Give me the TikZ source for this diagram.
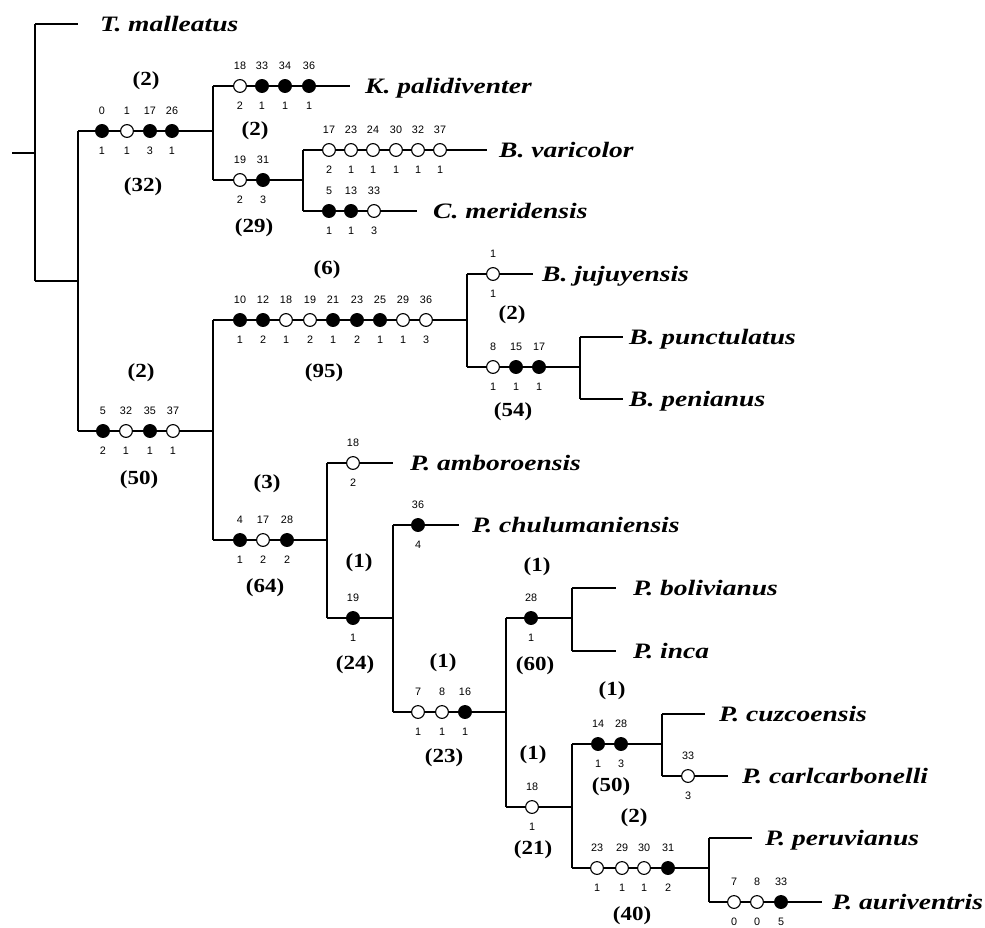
\documentclass[tikz,border=0pt]{standalone}
\usepackage{fontspec}
\newfontface\spfont[FakeStretch=1.25]{Liberation Serif Bold Italic}
\newfontface\bnfont[FakeStretch=1.15]{Liberation Serif Bold}
\newfontface\numfont{Liberation Sans}
\tikzset{
  br/.style={line width=1.7pt},
  oc/.style={circle,draw,fill=white,line width=1.1pt,minimum size=12.8pt,inner sep=0pt,outer sep=0pt},
  fc/.style={oc,fill=black},
  num/.style={font=\numfont\fontsize{10.8pt}{12pt}\selectfont,inner sep=0pt,text height=7.8pt,text depth=0pt},
  sp/.style={font=\spfont\fontsize{22pt}{24pt}\selectfont,anchor=base west,inner sep=0pt},
  bsup/.style={font=\bnfont\fontsize{20pt}{22pt}\selectfont,inner sep=0pt},
}
\newcommand\chr[6]{\node[#1,label={[num]above:#5},label={[num]below:#6}] (#2) at (#3,#4) {};}
\begin{document}
\begin{tikzpicture}[x=1pt,y=-1pt,label distance=9.5pt]
\useasboundingbox (0,0) rectangle (985,927);
% ---------- root ----------
\coordinate (r0) at (12,153);
\coordinate (rm) at (35,153);
\coordinate (rt) at (35,24);
\coordinate (rb) at (35,281);
\coordinate (tm) at (78,24);
\coordinate (A) at (78,281);
\coordinate (At) at (78,131);
\coordinate (Ab) at (78,431);
\draw[br] (r0)--(rm);
\draw[br] (rt)--(rb);
\draw[br] (rt)--(tm);
\draw[br] (rb)--(A);
\draw[br] (At)--(Ab);
\node[sp] (Tmal) at (100,31) {T. malleatus};
% ---------- clade K ----------
\chr{fc}{k1}{102}{131}{0}{1}
\chr{oc}{k2}{127}{131}{1}{1}
\chr{fc}{k3}{150}{131}{17}{3}
\chr{fc}{k4}{172}{131}{26}{1}
\coordinate (K) at (213,131);
\coordinate (Kt) at (213,86);
\coordinate (Kb) at (213,180);
\draw[br] (At)--(k1)--(k2)--(k3)--(k4)--(K);
\draw[br] (Kt)--(Kb);
\node[bsup] (sA1) at (146,81) {(2)};
\node[bsup] (sA2) at (143,187) {(32)};
% K. palidiventer
\chr{oc}{kp1}{240}{86}{18}{2}
\chr{fc}{kp2}{262}{86}{33}{1}
\chr{fc}{kp3}{285}{86}{34}{1}
\chr{fc}{kp4}{309}{86}{36}{1}
\coordinate (kpe) at (350,86);
\draw[br] (Kt)--(kp1)--(kp2)--(kp3)--(kp4)--(kpe);
\node[sp] (Kpal) at (365,93) {K. palidiventer};
% lower K
\chr{oc}{kb1}{240}{180}{19}{2}
\chr{fc}{kb2}{263}{180}{31}{3}
\coordinate (V) at (303,180);
\coordinate (Vt) at (303,150);
\coordinate (Vb) at (303,211);
\draw[br] (Kb)--(kb1)--(kb2)--(V);
\draw[br] (Vt)--(Vb);
\node[bsup] (sK1) at (255,131) {(2)};
\node[bsup] (sK2) at (254,228) {(29)};
% B. varicolor
\chr{oc}{v1}{329}{150}{17}{2}
\chr{oc}{v2}{351}{150}{23}{1}
\chr{oc}{v3}{373}{150}{24}{1}
\chr{oc}{v4}{396}{150}{30}{1}
\chr{oc}{v5}{418}{150}{32}{1}
\chr{oc}{v6}{440}{150}{37}{1}
\coordinate (ve) at (487,150);
\draw[br] (Vt)--(v1)--(v2)--(v3)--(v4)--(v5)--(v6)--(ve);
\node[sp] (Bvar) at (499,157) {B. varicolor};
% C. meridensis
\chr{fc}{m1}{329}{211}{5}{1}
\chr{fc}{m2}{351}{211}{13}{1}
\chr{oc}{m3}{374}{211}{33}{3}
\coordinate (me) at (417,211);
\draw[br] (Vb)--(m1)--(m2)--(m3)--(me);
\node[sp] (Cmer) at (433,218) {C. meridensis};
% ---------- lower main clade ----------
\chr{fc}{l1}{103}{431}{5}{2}
\chr{oc}{l2}{126}{431}{32}{1}
\chr{fc}{l3}{150}{431}{35}{1}
\chr{oc}{l4}{173}{431}{37}{1}
\coordinate (L) at (213,431);
\coordinate (Lt) at (213,320);
\coordinate (Lb) at (213,540);
\draw[br] (Ab)--(l1)--(l2)--(l3)--(l4)--(L);
\draw[br] (Lt)--(Lb);
\node[bsup] (sL1) at (141,373) {(2)};
\node[bsup] (sL2) at (139,480) {(50)};
% ---------- Bufo clade ----------
\chr{fc}{b1}{240}{320}{10}{1}
\chr{fc}{b2}{263}{320}{12}{2}
\chr{oc}{b3}{286}{320}{18}{1}
\chr{oc}{b4}{310}{320}{19}{2}
\chr{fc}{b5}{333}{320}{21}{1}
\chr{fc}{b6}{357}{320}{23}{2}
\chr{fc}{b7}{380}{320}{25}{1}
\chr{oc}{b8}{403}{320}{29}{1}
\chr{oc}{b9}{426}{320}{36}{3}
\coordinate (B) at (467,320);
\coordinate (Bt) at (467,274);
\coordinate (Bb) at (467,367);
\draw[br] (Lt)--(b1)--(b2)--(b3)--(b4)--(b5)--(b6)--(b7)--(b8)--(b9)--(B);
\draw[br] (Bt)--(Bb);
\node[bsup] (sB1) at (327,270) {(6)};
\node[bsup] (sB2) at (324,373) {(95)};
% B. jujuyensis
\chr{oc}{j1}{493}{274}{1}{1}
\coordinate (je) at (533,274);
\draw[br] (Bt)--(j1)--(je);
\node[sp] (Bjuj) at (542,281) {B. jujuyensis};
% punctulatus + penianus
\chr{oc}{bp1}{493}{367}{8}{1}
\chr{fc}{bp2}{516}{367}{15}{1}
\chr{fc}{bp3}{539}{367}{17}{1}
\coordinate (BP) at (580,367);
\coordinate (BPt) at (580,337);
\coordinate (BPb) at (580,399);
\draw[br] (Bb)--(bp1)--(bp2)--(bp3)--(BP);
\draw[br] (BPt)--(BPb);
\node[bsup] (sJ1) at (512,315) {(2)};
\node[bsup] (sJ2) at (513,412) {(54)};
\coordinate (pue) at (623,337);
\coordinate (pee) at (623,399);
\draw[br] (BPt)--(pue);
\draw[br] (BPb)--(pee);
\node[sp] (Bpun) at (629,344) {B. punctulatus};
\node[sp] (Bpen) at (629,406) {B. penianus};
% ---------- P clade ----------
\chr{fc}{p1}{240}{540}{4}{1}
\chr{oc}{p2}{263}{540}{17}{2}
\chr{fc}{p3}{287}{540}{28}{2}
\coordinate (P) at (327,540);
\coordinate (Pt) at (327,463);
\coordinate (Pb) at (327,618);
\draw[br] (Lb)--(p1)--(p2)--(p3)--(P);
\draw[br] (Pt)--(Pb);
\node[bsup] (sP1) at (267,484) {(3)};
\node[bsup] (sP2) at (265,588) {(64)};
% P. amboroensis
\chr{oc}{a1}{353}{463}{18}{2}
\coordinate (ae) at (393,463);
\draw[br] (Pt)--(a1)--(ae);
\node[sp] (Pamb) at (410,470) {P. amboroensis};
% Q
\chr{fc}{q1}{353}{618}{19}{1}
\coordinate (Q) at (393,618);
\coordinate (Qt) at (393,525);
\coordinate (Qb) at (393,712);
\draw[br] (Pb)--(q1)--(Q);
\draw[br] (Qt)--(Qb);
\node[bsup] (sQ1) at (359,563) {(1)};
\node[bsup] (sQ2) at (355,665) {(24)};
% P. chulumaniensis
\chr{fc}{c1}{418}{525}{36}{4}
\coordinate (ce) at (459,525);
\draw[br] (Qt)--(c1)--(ce);
\node[sp] (Pchu) at (472,532) {P. chulumaniensis};
% R
\chr{oc}{rr1}{418}{712}{7}{1}
\chr{oc}{rr2}{442}{712}{8}{1}
\chr{fc}{rr3}{465}{712}{16}{1}
\coordinate (R) at (506,712);
\coordinate (Rt) at (506,618);
\coordinate (Rb) at (506,807);
\draw[br] (Qb)--(rr1)--(rr2)--(rr3)--(R);
\draw[br] (Rt)--(Rb);
\node[bsup] (sR1) at (443,663) {(1)};
\node[bsup] (sR2) at (444,758) {(23)};
% bolivianus + inca
\chr{fc}{s1}{531}{618}{28}{1}
\coordinate (S) at (572,618);
\coordinate (St) at (572,588);
\coordinate (Sb) at (572,651);
\draw[br] (Rt)--(s1)--(S);
\draw[br] (St)--(Sb);
\node[bsup] (sS1) at (537,567) {(1)};
\node[bsup] (sS2) at (535,666) {(60)};
\coordinate (boe) at (616,588);
\coordinate (ine) at (616,651);
\draw[br] (St)--(boe);
\draw[br] (Sb)--(ine);
\node[sp] (Pbol) at (633,595) {P. bolivianus};
\node[sp] (Pinc) at (633,658) {P. inca};
% U
\chr{oc}{u1}{532}{807}{18}{1}
\coordinate (U) at (572,807);
\coordinate (Ut) at (572,744);
\coordinate (Ub) at (572,868);
\draw[br] (Rb)--(u1)--(U);
\draw[br] (Ut)--(Ub);
\node[bsup] (sU1) at (533,755) {(1)};
\node[bsup] (sU2) at (533,850) {(21)};
% W: cuzcoensis + carlcarbonelli
\chr{fc}{w1}{598}{744}{14}{1}
\chr{fc}{w2}{621}{744}{28}{3}
\coordinate (W) at (662,744);
\coordinate (Wt) at (662,714);
\coordinate (Wb) at (662,776);
\draw[br] (Ut)--(w1)--(w2)--(W);
\draw[br] (Wt)--(Wb);
\node[bsup] (sW1) at (612,691) {(1)};
\node[bsup] (sW2) at (611,787) {(50)};
\coordinate (cue) at (705,714);
\draw[br] (Wt)--(cue);
\node[sp] (Pcuz) at (719,721) {P. cuzcoensis};
\chr{oc}{cc1}{688}{776}{33}{3}
\coordinate (cce) at (728,776);
\draw[br] (Wb)--(cc1)--(cce);
\node[sp] (Pcar) at (742,783) {P. carlcarbonelli};
% X: peruvianus + auriventris
\chr{oc}{x1}{597}{868}{23}{1}
\chr{oc}{x2}{622}{868}{29}{1}
\chr{oc}{x3}{644}{868}{30}{1}
\chr{fc}{x4}{668}{868}{31}{2}
\coordinate (X) at (709,868);
\coordinate (Xt) at (709,838);
\coordinate (Xb) at (709,902);
\draw[br] (Ub)--(x1)--(x2)--(x3)--(x4)--(X);
\draw[br] (Xt)--(Xb);
\node[bsup] (sX1) at (634,818) {(2)};
\node[bsup] (sX2) at (632,916) {(40)};
\coordinate (pve) at (752,838);
\draw[br] (Xt)--(pve);
\node[sp] (Pper) at (765,845) {P. peruvianus};
\chr{oc}{au1}{734}{902}{7}{0}
\chr{oc}{au2}{757}{902}{8}{0}
\chr{fc}{au3}{781}{902}{33}{5}
\coordinate (aue) at (822,902);
\draw[br] (Xb)--(au1)--(au2)--(au3)--(aue);
\node[sp] (Paur) at (832,909) {P. auriventris};
\end{tikzpicture}
\end{document}
